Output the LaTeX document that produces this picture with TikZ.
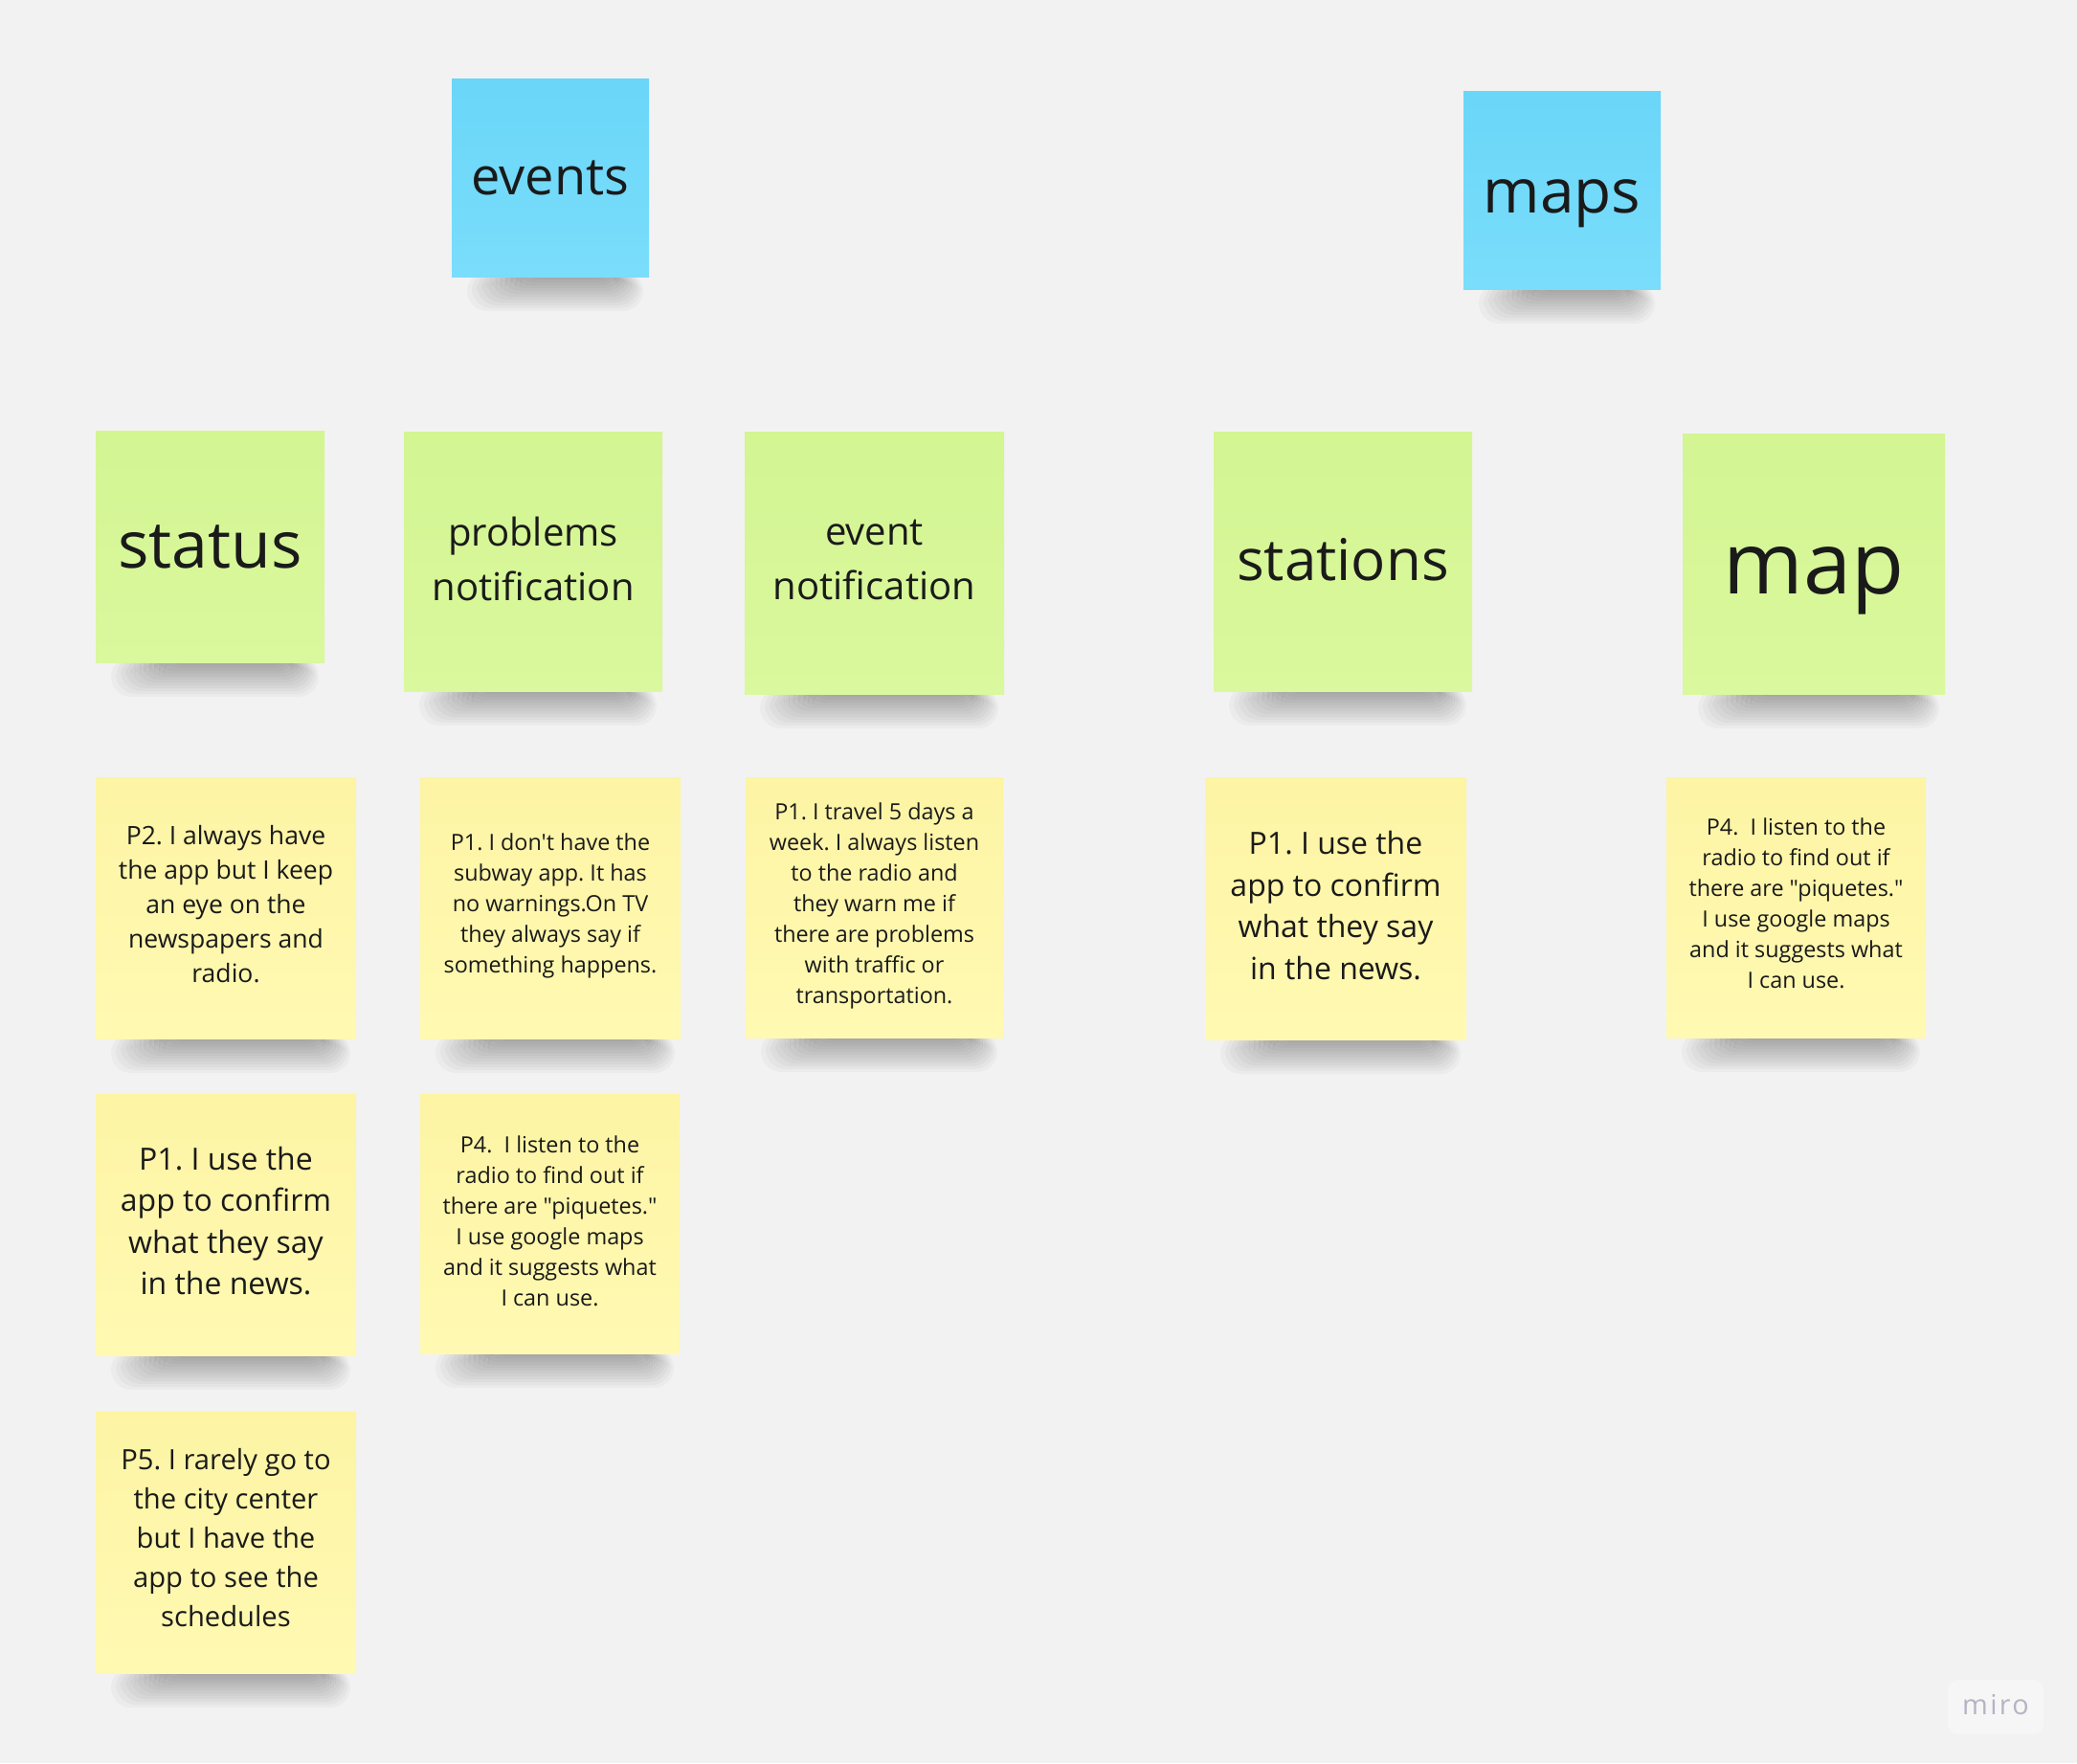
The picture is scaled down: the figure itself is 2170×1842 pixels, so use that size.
\documentclass[tikz,border=0pt]{standalone}
\usepackage{fontspec}
\setmainfont{Open Sans}[Ligatures=TeXOff]
\frenchspacing
\definecolor{bg}{HTML}{F2F2F2}
\definecolor{ink}{HTML}{1A1A1A}
\definecolor{bluetop}{HTML}{6AD6F8}
\definecolor{bluebot}{HTML}{7ADDFB}
\definecolor{greentop}{HTML}{D3F592}
\definecolor{greenbot}{HTML}{DAF89D}
\definecolor{yellowtop}{HTML}{FDF4A4}
\definecolor{yellowbot}{HTML}{FFF9B2}
\definecolor{logogray}{HTML}{B4B4C4}
\tikzset{
  x=0.1mm, y=-0.1mm,
  card/.style={inner sep=0pt, align=center, text=ink},
  bluenote/.style={inner sep=0pt, top color=bluetop, bottom color=bluebot},
  greennote/.style={inner sep=0pt, top color=greentop, bottom color=greenbot},
  yellownote/.style={inner sep=0pt, top color=yellowtop, bottom color=yellowbot},
  fevents/.style={font=\fontsize{15.4pt}{18pt}\selectfont},
  fmaps/.style={font=\fontsize{18.2pt}{22pt}\selectfont},
  fstatus/.style={font=\fontsize{19.35pt}{23pt}\selectfont},
  fnotif/.style={font=\fontsize{11.4pt}{16.2pt}\selectfont},
  fstations/.style={font=\fontsize{17.1pt}{20pt}\selectfont},
  fmap/.style={font=\fontsize{25.6pt}{30pt}\selectfont},
  fsmall/.style={font=\fontsize{6.65pt}{9.1pt}\selectfont},
  fptwo/.style={font=\fontsize{7.55pt}{10.25pt}\selectfont},
  fmid/.style={font=\fontsize{9.1pt}{12.35pt}\selectfont},
  fpfive/.style={font=\fontsize{8.3pt}{11.6pt}\selectfont},
}
% #1 name, #2 x1, #3 y1, #4 x2, #5 y2, #6 card style, #7 font style, #8 text dy, #9 text
\newcommand\sticky[9]{%
  \foreach \i in {0,...,11}{%
    \fill[black, opacity=0.026, rounded corners=6pt]
      ({#2+16+\i*5},{#5-6}) rectangle ({#4-6-\i*2.5},{#5+36-\i*3});
  }%
  \node[#6, minimum width={(#4-#2)*0.1mm}, minimum height={(#5-#3)*0.1mm}]
    (#1) at ({(#2+#4)/2},{(#3+#5)/2}) {};
  \node[card, #7, shift={(0,#8)}] (#1-text) at (#1.center) {#9};
}
\begin{document}
\begin{tikzpicture}
\fill[bg] (0,0) rectangle (2170,1842);
\useasboundingbox (0,0) rectangle (2170,1842);

% headers
\sticky{events}{472}{82}{678}{289}{bluenote}{fevents}{0}{events}
\sticky{maps}{1529}{95}{1735}{302}{bluenote}{fmaps}{14}{maps}

% green row
\sticky{status}{100}{450}{339}{692}{greennote}{fstatus}{0}{status}
\sticky{probnotif}{422}{451}{692}{722}{greennote}{fnotif}{-3}{problems\\notification}
\sticky{eventnotif}{778}{451}{1049}{725}{greennote}{fnotif}{-3}{event\\notification}
\sticky{stations}{1268}{451}{1538}{722}{greennote}{fstations}{-1.5}{stations}
\sticky{map}{1758}{453}{2032}{725}{greennote}{fmap}{18}{map}

% yellow row 1
\sticky{ptwo}{100}{812}{372}{1085}{yellownote}{fptwo}{-4}{P2. I always have\\the app but I keep\\an eye on the\\newspapers and\\radio.}
\sticky{ponedont}{439}{812}{711}{1085}{yellownote}{fsmall}{-2}{P1. I don't have the\\subway app. It has\\no warnings.On TV\\they always say if\\something happens.}
\sticky{ponetravel}{779}{812}{1048}{1084}{yellownote}{fsmall}{-1.5}{P1. I travel 5 days a\\week. I always listen\\to the radio and\\they warn me if\\there are problems\\with traffic or\\transportation.}
\sticky{poneusestations}{1259}{812}{1532}{1086}{yellownote}{fmid}{-3}{P1. I use the\\app to confirm\\what they say\\in the news.}
\sticky{pfourmap}{1741}{812}{2012}{1084}{yellownote}{fsmall}{-4}{P4.\ \ I listen to the\\radio to find out if\\there are "piquetes."\\I use google maps\\and it suggests what\\I can use.}

% yellow row 2
\sticky{poneusestatus}{100}{1143}{372}{1416}{yellownote}{fmid}{-4}{P1. I use the\\app to confirm\\what they say\\in the news.}
\sticky{pfourprob}{439}{1143}{710}{1414}{yellownote}{fsmall}{-3}{P4.\ \ I listen to the\\radio to find out if\\there are "piquetes."\\I use google maps\\and it suggests what\\I can use.}

% yellow row 3
\sticky{pfive}{100}{1475}{372}{1748}{yellownote}{fpfive}{-5}{P5. I rarely go to\\the city center\\but I have the\\app to see the\\schedules}

% logo
\fill[white, opacity=0.35, rounded corners=3pt] (2035,1755) rectangle (2135,1812);
\node[text=logogray, font=\fontsize{8.2pt}{10pt}\selectfont\addfontfeatures{LetterSpace=8}] (miro) at (2085,1781) {miro};
\end{tikzpicture}
\end{document}
